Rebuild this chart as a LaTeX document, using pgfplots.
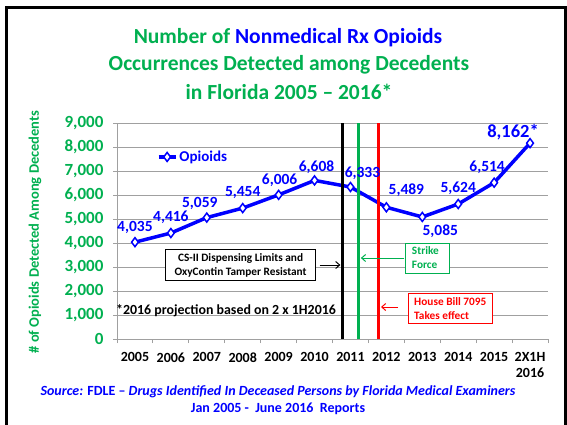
\documentclass[border=0pt]{standalone}
\usepackage{pgfplots}
\pgfplotsset{compat=1.18}
\usepackage{fontspec}
\setmainfont{Carlito}
\usetikzlibrary{arrows.meta}

\definecolor{xlgreen}{RGB}{0,176,80}
\definecolor{xlblue}{RGB}{0,0,255}
\definecolor{xlred}{RGB}{255,0,0}
\definecolor{gridgray}{RGB}{160,160,160}

\begin{document}
\begin{tikzpicture}
\useasboundingbox (0pt,0pt) rectangle (567pt,424pt);
\fill[white] (0pt,0pt) rectangle (567pt,424pt);
% frame round the slide
\draw[line width=3pt] (6pt,-5pt) -- (6pt,416pt) -- (565pt,416pt) -- (565pt,-5pt);

% title
\node[font=\bfseries\fontsize{21.5}{24}\selectfont, text=xlgreen] at (288pt,386pt)
  {Number of \textcolor{xlblue}{Nonmedical Rx Opioids}};
\node[font=\bfseries\fontsize{21.5}{24}\selectfont, text=xlgreen] at (289pt,359pt)
  {Occurrences Detected among Decedents};
\node[font=\bfseries\fontsize{21.5}{24}\selectfont, text=xlgreen] at (289pt,332pt)
  {in Florida 2005 -- 2016*};

% y label
\node[rotate=90, font=\bfseries\fontsize{14.5}{16}\selectfont, text=xlgreen] at (35pt,192pt)
  {\# of Opioids Detected Among Decedents};

% source
\node[font=\bfseries\fontsize{14}{16}\selectfont, text=xlblue] at (278pt,32pt)
  {\textit{Source:} FDLE -- \textit{Drugs Identified In Deceased Persons by Florida Medical Examiners}};
\node[font=\bfseries\fontsize{14}{16}\selectfont, text=xlblue] at (278pt,15pt)
  {Jan 2005 -\ \ June 2016\ \ Reports};

\begin{axis}[
    at={(117pt,85pt)}, anchor=south west,
    scale only axis,
    width=431pt, height=216pt,
    xmin=-0.5, xmax=11.5,
    ymin=0, ymax=9000,
    axis x line*=bottom, axis y line*=left,
    axis line style={gridgray, line width=1pt},
    tick align=outside,
    xtick={0,...,11},
    xticklabels={2005,2006,2007,2008,2009,2010,2011,2012,2013,2014,2015,{2X1H\\2016}},
    major x tick style={draw=none},
    minor xtick={-0.5,0.5,...,11.5},
    minor tick length=4pt,
    major tick length=4pt,
    tick style={gridgray, line width=1pt},
    xticklabel style={font=\bfseries\fontsize{14}{16}\selectfont, align=center, anchor=north, yshift=-6pt},
    ytick={0,1000,...,9000},
    yticklabels={0,{1,000},{2,000},{3,000},{4,000},{5,000},{6,000},{7,000},{8,000},{9,000}},
    yticklabel style={font=\bfseries\fontsize{17}{17}\selectfont, text=xlgreen, xshift=-6pt},
    ymajorgrids,
    grid style={gridgray, line width=1pt},
    legend style={at={(rel axis cs:0.085,0.89)}, anchor=north west, draw=none, fill=none,
        font=\bfseries\fontsize{15}{16}\selectfont, text=xlblue},
    clip=false,
]

    % --- Opioid occurrences ---
    \addplot[xlblue, line width=3.5pt, mark=diamond*, mark size=4.5pt,
        mark options={fill=white, draw=xlblue, line width=1.5pt}] coordinates {
        (0,4035) (1,4416) (2,5059) (3,5454) (4,6006) (5,6608)
        (6,6333) (7,5489) (8,5085) (9,5624) (10,6514) (11,8162)
    };
    \addlegendentry{Opioids}

    % --- policy markers ---
    \addplot[black, line width=3.5pt, forget plot] coordinates {(5.78,0) (5.78,9000)};
    \addplot[xlgreen, line width=3.5pt, forget plot] coordinates {(6.22,0) (6.22,9000)};
    \addplot[xlred, line width=3.5pt, forget plot] coordinates {(6.78,0) (6.78,9000)};

    % value labels
    \begin{scope}[every node/.style={font=\bfseries\fontsize{15.5}{16}\selectfont, text=xlblue}]
    \node[yshift=15pt] at (axis cs:0,4035) {4,035};
    \node[yshift=16pt] at (axis cs:1,4416) {4,416};
    \node[xshift=-7pt, yshift=14pt] at (axis cs:2,5059) {5,059};
    \node[yshift=16pt] at (axis cs:3,5454) {5,454};
    \node[xshift=1pt, yshift=15pt] at (axis cs:4,6006) {6,006};
    \node[xshift=2pt, yshift=13pt] at (axis cs:5,6608) {6,608};
    \node[xshift=12pt, yshift=14pt] at (axis cs:6,6333) {6,333};
    \node[xshift=20pt, yshift=17pt] at (axis cs:7,5489) {5,489};
    \node[xshift=18pt, yshift=-14pt] at (axis cs:8,5085) {5,085};
    \node[yshift=16pt] at (axis cs:9,5624) {5,624};
    \node[xshift=-7pt, yshift=15pt] at (axis cs:10,6514) {6,514};
    \node[xshift=-17pt, yshift=11pt, font=\bfseries\fontsize{18.5}{20}\selectfont] at (axis cs:11,8162) {8,162*};
    \end{scope}

    % annotation boxes
    \node[draw=black, line width=1pt, fill=white, align=center, inner xsep=9pt, inner ysep=4pt,
        font=\bfseries\fontsize{11.3}{14}\selectfont] at (axis cs:2.94,3083)
        {CS-II Dispensing Limits and\\OxyContin Tamper Resistant};
    \draw[-{Straight Barb[length=4pt,width=7pt]}, line width=1pt] (axis cs:5.14,3083) -- (axis cs:5.72,3083);

    \node[draw=xlgreen, line width=1pt, fill=white, align=left, inner xsep=6pt, inner ysep=4pt,
        text=xlgreen, font=\bfseries\fontsize{11.3}{14}\selectfont] at (axis cs:8.15,3375)
        {Strike\\Force\hspace*{6pt}};
    \draw[xlgreen, -{Straight Barb[length=4pt,width=7pt]}, line width=1pt] (axis cs:7.5,3375) -- (axis cs:6.29,3375);

    \node[draw=xlred, line width=1pt, fill=white, align=left, inner xsep=6pt, inner ysep=4pt,
        text=xlred, font=\bfseries\fontsize{11.3}{14}\selectfont] at (axis cs:8.78,1271)
        {House Bill 7095\\Takes effect};
    \draw[xlred, -{Straight Barb[length=4pt,width=7pt]}, line width=1pt] (axis cs:7.33,1333) -- (axis cs:6.85,1333);

    \node[anchor=west, inner sep=0pt, font=\bfseries\fontsize{13.9}{15}\selectfont] at (axis cs:-0.53,1167)
        {*2016 projection based on 2 x 1H2016};

\end{axis}
\end{tikzpicture}
\end{document}
